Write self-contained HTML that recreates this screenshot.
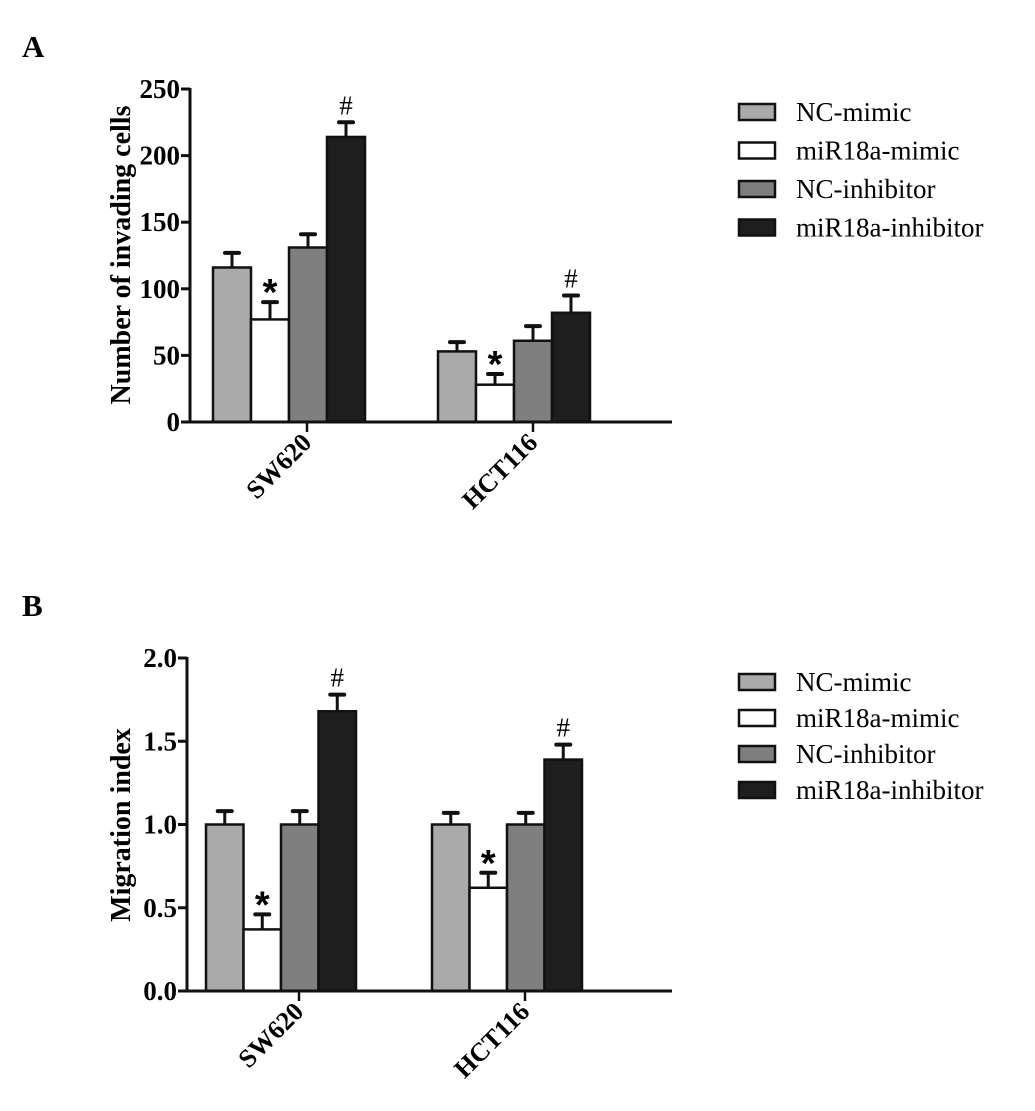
<!DOCTYPE html>
<html><head><meta charset="utf-8"><style>
body{margin:0;background:#fff}
svg{display:block;font-family:"Liberation Serif",serif}
</style></head><body>
<svg id="fig" width="1035" height="1111" viewBox="0 0 1035 1111"></svg>
<script>
const groups=["SW620","HCT116"];
const seriesNames=["NC-mimic","miR18a-mimic","NC-inhibitor","miR18a-inhibitor"];
const colors=["#aaaaaa","#ffffff","#7f7f7f","#1e1e1e"];
const aValues=[[116,77,131,214],[53,28,61,82]];
const aErr=[[11,13,10,11],[7,8,11,13]];
const aMarks=[["","*","","#"],["","*","","#"]];
const aTicks=[0,50,100,150,200,250];
const bValues=[[1.0,0.37,1.0,1.68],[1.0,0.62,1.0,1.39]];
const bErr=[[0.08,0.09,0.08,0.1],[0.07,0.09,0.07,0.09]];
const bMarks=[["","*","","#"],["","*","","#"]];
const bTicks=["0.0","0.5","1.0","1.5","2.0"];
const NS="http://www.w3.org/2000/svg";
const svg=document.getElementById('fig');
function mk(tag,attrs,parent,text){const e=document.createElementNS(NS,tag);for(const k in attrs)e.setAttribute(k,attrs[k]);if(text!==undefined)e.textContent=text;(parent||svg).appendChild(e);return e;}

function panel(cfg){
  const g=mk('g',{});
  
  
  const y=v=>cfg.y0-(v/cfg.max)*(cfg.y0-cfg.yTop);
  const lbl=mk('text',{x:22,y:cfg.labelY,'font-size':31,'font-weight':'bold'},g,cfg.letter);
  
  
  cfg.values.forEach((grp,gi)=>{
    grp.forEach((v,si)=>{
      const x=cfg.gx[gi]+si*cfg.bw;
      const top=y(v), et=y(v+cfg.err[gi][si]);
      const cx=x+cfg.bw/2;
      const eb=mk('line',{x1:cx,x2:cx,y1:top,y2:et,stroke:'#111','stroke-width':3},g);
      
      
      const cap=mk('line',{x1:cx-7,x2:cx+7,y1:et,y2:et,stroke:'#111','stroke-width':4,'stroke-linecap':'round'},g);
      
      
      const r=mk('rect',{x:x,y:top,width:cfg.bw,height:cfg.y0-top,fill:colors[si],stroke:'#111','stroke-width':2.5},g);
      
      
      const m=cfg.marks[gi][si];
      if(m){
        const t=mk('text',{x:cx,y:m==='*'?et+3:et-8,'text-anchor':'middle','font-size':m==='*'?38:27,'font-weight':m==='*'?'bold':'normal','font-family':m==='*'?'"Liberation Sans",sans-serif':'"Liberation Serif",serif'},g,m);
        
        
      }
    });
  });
  const ya=mk('line',{x1:cfg.ax,x2:cfg.ax,y1:cfg.yTop-1,y2:cfg.y0+1.5,stroke:'#111','stroke-width':3},g);
  
  
  const xa=mk('line',{x1:cfg.ax-9,x2:cfg.xEnd,y1:cfg.y0,y2:cfg.y0,stroke:'#111','stroke-width':3},g);
  
  
  cfg.ticks.forEach(tl=>{
    const v=parseFloat(tl), ty=y(v);
    const tk=mk('line',{x1:cfg.ax-9,x2:cfg.ax,y1:ty,y2:ty,stroke:'#111','stroke-width':3},g);
    
    
    const tt=mk('text',{x:cfg.ax-10,y:ty+9,'text-anchor':'end','font-size':27,'font-weight':'bold'},g,tl);
    
    
  });
  const yt=mk('text',{transform:`translate(${cfg.titleX},${cfg.titleY}) rotate(-90)`,'text-anchor':'middle','font-size':28,'font-weight':'bold'},g,cfg.title);
  
  
  groups.forEach((gn,gi)=>{
    const tx=cfg.tickX[gi];
    const tk=mk('line',{x1:tx,x2:tx,y1:cfg.y0,y2:cfg.y0+10,stroke:'#111','stroke-width':2.5},g);
    
    
    const t=mk('text',{transform:`translate(${tx+6},${cfg.y0+22}) rotate(-45)`,'text-anchor':'end','font-size':26,'font-weight':'bold'},g,gn);
    
    
  });
  seriesNames.forEach((n,si)=>{
    const ly=cfg.legY+si*cfg.legGap;
    const r=mk('rect',{x:739,y:ly-8,width:36,height:16,fill:colors[si],stroke:'#111','stroke-width':2.5},g);
    
    
    const t=mk('text',{x:796,y:ly+9,'font-size':27},g,n);
    
    
  });
}
panel({name:'panel-a',letter:'A',labelY:57,values:aValues,err:aErr,marks:aMarks,ticks:aTicks.map(String),max:250,
  y0:422,yTop:89,ax:190,xEnd:672,gx:[213,438],bw:38,tickX:[307,533],title:'Number of invading cells',titleX:130,titleY:255,
  legY:112,legGap:38.5});
panel({name:'panel-b',letter:'B',labelY:616,values:bValues,err:bErr,marks:bMarks,ticks:bTicks,max:2,
  y0:991,yTop:658,ax:187,xEnd:672,gx:[206,432],bw:37.5,tickX:[299,525],title:'Migration index',titleX:130,titleY:825,
  legY:682,legGap:36});
</script>
</body></html>
